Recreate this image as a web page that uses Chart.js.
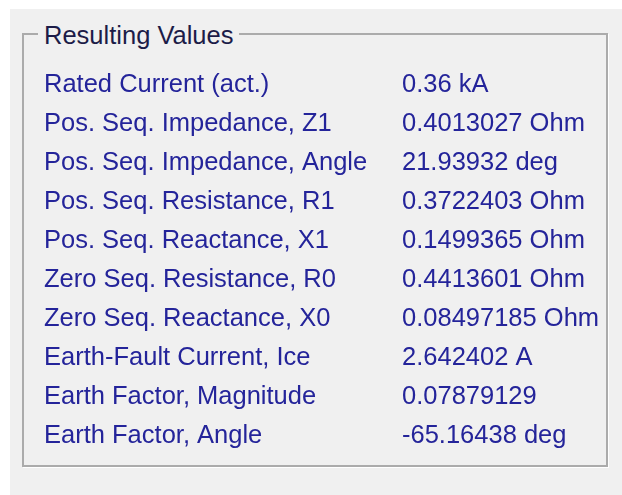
<!DOCTYPE html>
<html lang="en">
<head>
    <meta charset="UTF-8">
    <title>Resulting Values</title>
    <script src="https://cdn.jsdelivr.net/npm/chart.js"></script>
    <style>
        body {
            margin: 0;
            background: #ffffff;
            width: 622px;
            height: 495px;
            overflow: hidden;
            position: relative;
            font-family: 'Liberation Sans', Arial, sans-serif;
        }

        .panel {
            position: absolute;
            left: 10px;
            top: 9px;
            right: 0;
            bottom: 0;
            background: #f0f0f0;
        }

        .group-box {
            position: absolute;
            left: 22px;
            top: 33px;
            width: 582px;
            height: 430px;
            border: 2px solid #ababab;
            box-shadow: 1px 1px 0 #ffffff;
        }

        .group-title {
            position: absolute;
            left: 38px;
            top: 21px;
            padding: 0 6px;
            background: #f0f0f0;
            color: #1c1c48;
            font-size: 25.5px;
            line-height: 28px;
            white-space: nowrap;
        }

        #valuesChart {
            position: absolute;
            left: 0;
            top: 0;
        }
    </style>
</head>
<body>
    <div class="panel"></div>
    <div class="group-box"></div>
    <div class="group-title">Resulting Values</div>
    <canvas id="valuesChart" width="622" height="495"></canvas>

    <script>
        // parameter names (left column)
        const parameters = [
            'Rated Current (act.)',
            'Pos. Seq. Impedance, Z1',
            'Pos. Seq. Impedance, Angle',
            'Pos. Seq. Resistance, R1',
            'Pos. Seq. Reactance, X1',
            'Zero Seq. Resistance, R0',
            'Zero Seq. Reactance, X0',
            'Earth-Fault Current, Ice',
            'Earth Factor, Magnitude',
            'Earth Factor, Angle'
        ];

        // numeric results and their units (right column)
        const values = ['0.36', '0.4013027', '21.93932', '0.3722403', '0.1499365',
                        '0.4413601', '0.08497185', '2.642402', '0.07879129', '-65.16438'];
        const units = ['kA', 'Ohm', 'deg', 'Ohm', 'Ohm', 'Ohm', 'Ohm', 'A', '', 'deg'];

        const valueLabels = values.map((v, i) => units[i] ? v + ' ' + units[i] : v);

        const textBlue = '#24249a';

        Chart.defaults.font.family = "'Liberation Sans', Arial, sans-serif";
        Chart.defaults.font.size = 25.5;
        Chart.defaults.color = textBlue;

        const ctx = document.getElementById('valuesChart').getContext('2d');

        new Chart(ctx, {
            type: 'bar',
            data: {
                labels: parameters,
                datasets: []
            },
            options: {
                responsive: false,
                animation: false,
                indexAxis: 'y',
                layout: {
                    padding: { left: 44, right: 2, top: 65, bottom: 40 }
                },
                plugins: {
                    legend: { display: false },
                    tooltip: { enabled: false }
                },
                scales: {
                    x: { display: false },
                    y: {
                        type: 'category',
                        position: 'left',
                        offset: true,
                        grid: { display: false, drawTicks: false },
                        border: { display: false },
                        ticks: { crossAlign: 'far', autoSkip: false, padding: 0, color: textBlue },
                        afterFit(scale) { scale.width = 340; }
                    },
                    yValues: {
                        type: 'category',
                        position: 'right',
                        labels: valueLabels,
                        offset: true,
                        grid: { display: false, drawTicks: false },
                        border: { display: false },
                        ticks: { crossAlign: 'near', autoSkip: false, padding: 0, color: textBlue },
                        afterFit(scale) { scale.width = 218; }
                    }
                }
            }
        });
    </script>
</body>
</html>
